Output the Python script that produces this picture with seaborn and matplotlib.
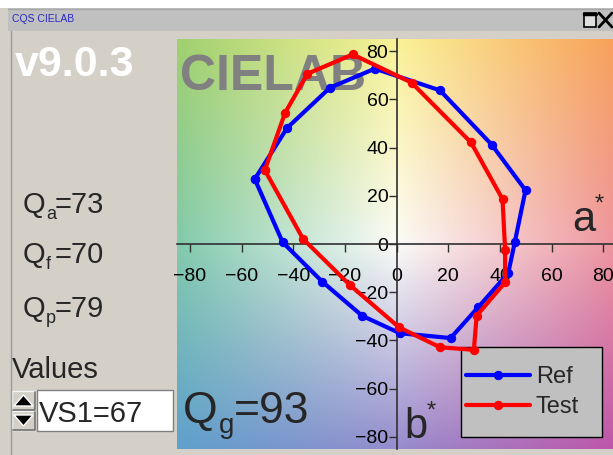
import numpy as np
import matplotlib
matplotlib.use('Agg')
from matplotlib import pyplot as plt
from matplotlib.patches import Rectangle, Polygon
from matplotlib.lines import Line2D
import seaborn as sns

# 샘플 데이터 (CQS 15개 샘플, a*, b*)
ref_a = [-54.9, -42.4, -25.8, -8.4, 16.8, 36.8, 49.9, 45.8, 43.2, 31.6, 20.9, 1.3, -13.3, -28.8, -44.1]
ref_b = [26.9, 48.1, 64.8, 72.7, 63.7, 41.2, 22.3, 1.0, -12.1, -26.2, -39.0, -37.0, -29.8, -15.6, 0.7]
test_a = [-51.0, -43.2, -34.5, -17.0, 5.8, 28.8, 41.0, 42.0, 42.0, 31.0, 29.9, 16.8, 1.0, -18.1, -36.2]
test_b = [30.6, 54.3, 70.6, 78.6, 66.9, 42.1, 18.6, -2.5, -15.9, -29.7, -43.9, -42.8, -34.6, -17.0, 2.1]
series_names = ['Ref', 'Test']
ticks = [-80, -60, -40, -20, 0, 20, 40, 60, 80]
q_keys = ['a', 'f', 'p']
q_vals = [73, 70, 79]
q_g = 93
vs_value = 'VS1=67'
version = 'v9.0.3'

sns.set_theme(style='white')
plt.rcParams['font.family'] = ['Liberation Sans', 'DejaVu Sans']

W, H = 613, 455
panel = '#d4d0c8'
fig = plt.figure(figsize=(W / 100, H / 100), dpi=100, facecolor=panel)


def fx(x):
    return x / W


def fy(y):
    return 1 - y / H


def frect(x0, y0, x1, y1, **kw):
    fig.patches.append(Rectangle((fx(x0), fy(y1)), fx(x1 - x0), (y1 - y0) / H,
                                 transform=fig.transFigure, **kw))


def fline(xs, ys, **kw):
    fig.lines.append(Line2D([fx(x) for x in xs], [fy(y) for y in ys], transform=fig.transFigure, **kw))


# 창 제목 표시줄
frect(0, 0, W, 8, facecolor='white', edgecolor='none')
frect(8, 8, W, 31, facecolor='#c0c0c0', edgecolor='none')
fline([8, W], [8.5, 8.5], color='#a8a8a8', lw=1)
fline([10.5, 10.5], [31, H], color='#9a9a9a', lw=1)
fig.text(fx(12), fy(19), 'CQS CIELAB', color='#2828c8', fontsize=7.5, va='center', ha='left')
frect(584, 13, 596, 27, facecolor='#e0e0e0', edgecolor='black', lw=1.2)
fline([584, 596], [14, 14], color='black', lw=2.5)
fline([599, 612], [13, 27], color='black', lw=2)
fline([599, 612], [27, 13], color='black', lw=2)

# 메인 축 (a*, b*)
ax = fig.add_axes([fx(177), fy(449), 439.2 / W, 410 / H])
ax.set_xlim(-85, 85)
ax.set_ylim(-85, 85)

# 배경 색상 그라데이션 (3x3 격자를 쌍선형 보간)
grid = np.array([
    [[160, 208, 110], [250, 242, 150], [248, 160, 90]],
    [[130, 202, 172], [252, 252, 248], [238, 148, 158]],
    [[95, 160, 205], [150, 140, 205], [190, 85, 170]],
], dtype=float) / 255
n = 300
u = np.linspace(0, 2, n)
U, V = np.meshgrid(u, u)
i0 = np.clip(np.floor(V).astype(int), 0, 1)
j0 = np.clip(np.floor(U).astype(int), 0, 1)
tu = (U - j0)[..., None]
tv = (V - i0)[..., None]
img = (grid[i0, j0] * (1 - tu) * (1 - tv) + grid[i0, j0 + 1] * tu * (1 - tv)
       + grid[i0 + 1, j0] * (1 - tu) * tv + grid[i0 + 1, j0 + 1] * tu * tv)
ax.imshow(img, extent=(-85, 85, -85, 85), origin='upper', aspect='auto', zorder=0)

ax.text(-84, 63.7, 'CIELAB', color='#808080', fontsize=36, fontweight='bold', zorder=1)

# 폐곡선으로 그리기 위해 첫 점을 마지막에 다시 추가
for xs, ys, name, col in [(ref_a, ref_b, series_names[0], 'blue'), (test_a, test_b, series_names[1], 'red')]:
    sns.lineplot(x=xs + xs[:1], y=ys + ys[:1], sort=False, estimator=None, color=col, lw=3,
                 marker='o', markersize=6, markeredgecolor=col, label=name, ax=ax, zorder=3)

for s in ['top', 'right']:
    ax.spines[s].set_visible(False)
for s in ['left', 'bottom']:
    ax.spines[s].set_position(('data', 0))
    ax.spines[s].set_color('#303030')
    ax.spines[s].set_linewidth(1.2)
    ax.spines[s].set_zorder(2)
ax.set_xticks(ticks)
ax.set_yticks(ticks)
ax.tick_params(axis='both', direction='out', length=6, width=1, color='#303030',
               labelsize=14, labelcolor='black', bottom=True, left=True)
ax.tick_params(axis='x', pad=11)
ax.tick_params(axis='y', pad=0)

# 축 이름과 Qg 값
fig.text(fx(572), fy(231), 'a', fontsize=30)
fig.text(fx(595), fy(211), '*', fontsize=17)
fig.text(fx(404), fy(438), 'b', fontsize=30)
fig.text(fx(427), fy(418), '*', fontsize=17)
fig.text(fx(183), fy(423), 'Q', fontsize=32)
fig.text(fx(219), fy(433), 'g', fontsize=20)
fig.text(fx(234), fy(423), '=' + str(q_g), fontsize=32)

# 범례: 회색 상자 + 테두리 없는 범례
ax.add_patch(Rectangle((fx(461), fy(437)), fx(141), 90 / H, transform=fig.transFigure,
                       facecolor='#c0c0c0', edgecolor='black', lw=1, zorder=2.5, clip_on=False))
leg = ax.legend(loc='center left', bbox_to_anchor=(fx(466), fy(392)), bbox_transform=fig.transFigure,
                fontsize=17, frameon=False, handlelength=2.7, handletextpad=0.25, borderpad=0,
                labelspacing=0.35, borderaxespad=0)
leg.set_zorder(5)

# 왼쪽 패널 텍스트
fig.text(fx(15), fy(76), version, color='white', fontsize=31, fontweight='bold')
for k, v, yb in zip(q_keys, q_vals, [213, 263, 317]):
    fig.text(fx(23), fy(yb), 'Q', fontsize=21)
    fig.text(fx(46), fy(yb + 6), k, fontsize=13)
    fig.text(fx(55), fy(yb), '=' + str(v), fontsize=21)
fig.text(fx(12), fy(378), 'Values', fontsize=21)

# 스핀 버튼과 값 입력란
frect(37, 390, 173, 431, facecolor='white', edgecolor='#808080', lw=1)
fig.text(fx(39), fy(422), vs_value, fontsize=21)
for y0, y1 in [(391, 410), (411, 430)]:
    frect(12, y0, 35, y1, facecolor=panel, edgecolor='#f4f4f4', lw=1)
    fline([12.5, 34.5, 34.5], [y1 - 0.5, y1 - 0.5, y0 + 0.5], color='#707070', lw=1.2)
fig.patches.append(Polygon([(fx(14), fy(406)), (fx(33), fy(406)), (fx(23.5), fy(395))], closed=True,
                           facecolor='black', transform=fig.transFigure))
fig.patches.append(Polygon([(fx(14), fy(415)), (fx(33), fy(415)), (fx(23.5), fy(426))], closed=True,
                           facecolor='black', transform=fig.transFigure))

plt.savefig('out.png', dpi=100, facecolor=panel)
